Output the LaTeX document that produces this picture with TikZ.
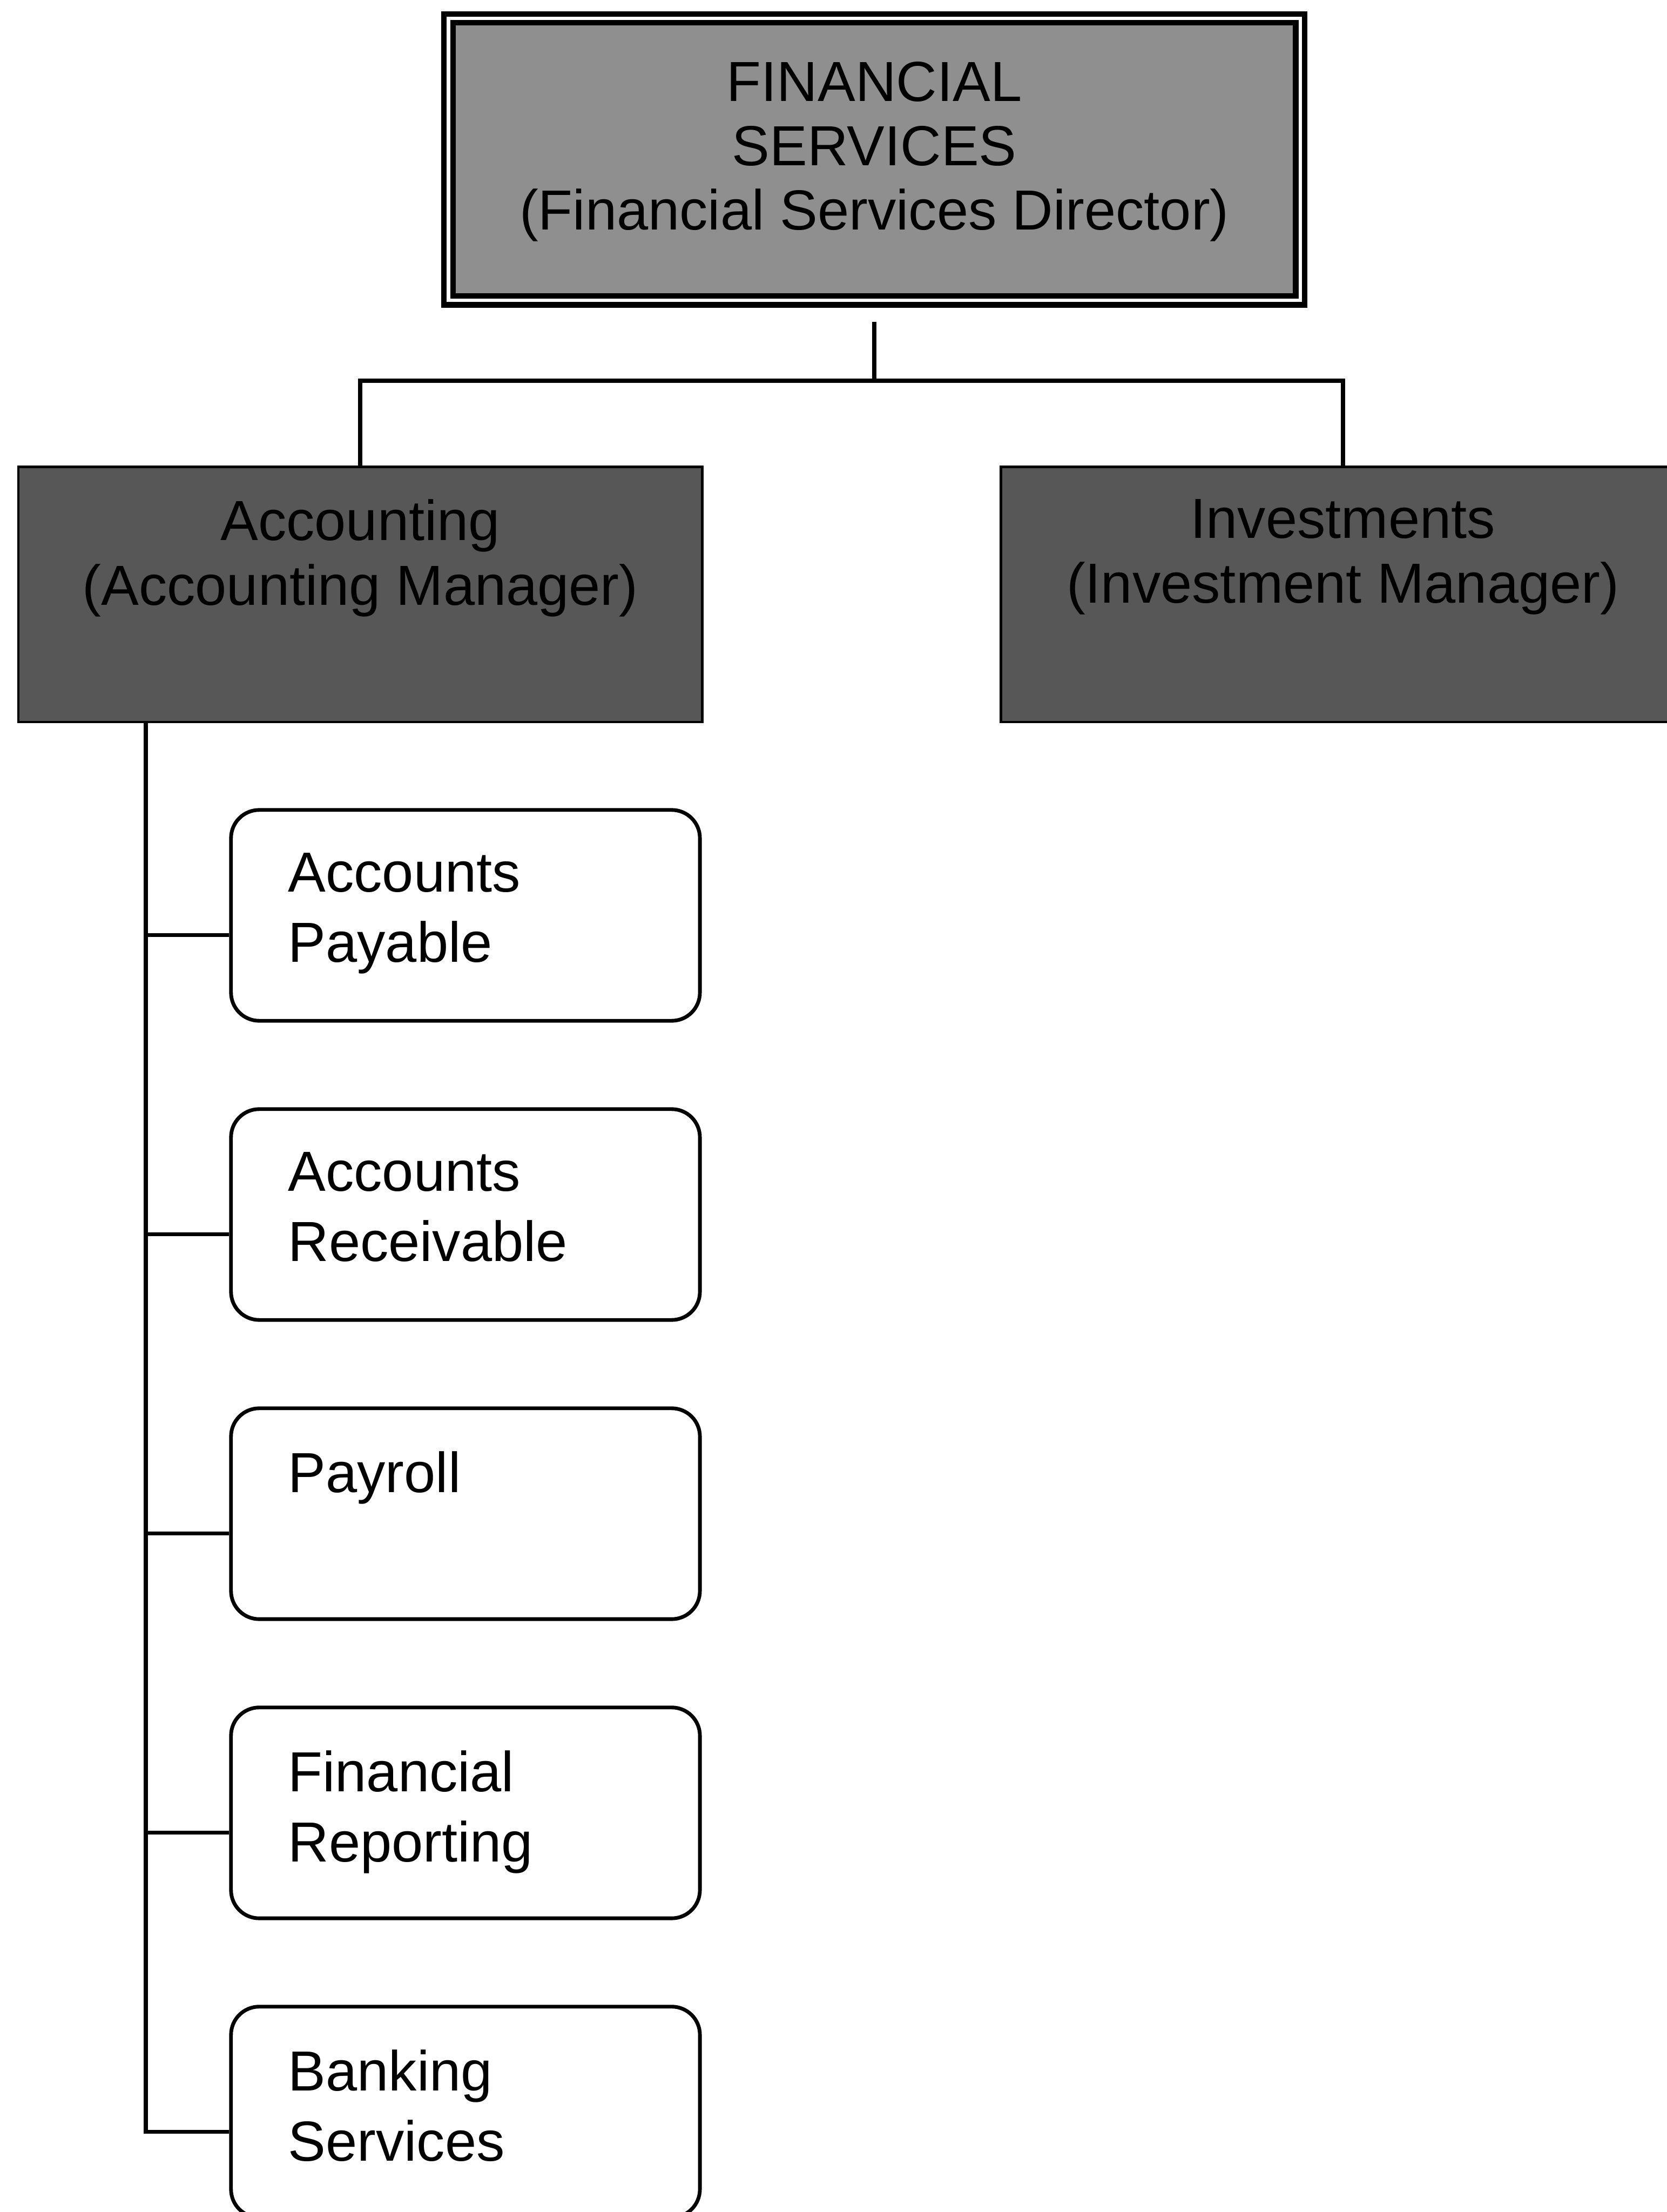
\documentclass[tikz,border=0pt]{standalone}
\usepackage{fontspec}
\setmainfont{Liberation Sans}
\usetikzlibrary{positioning,calc}

\definecolor{headgray}{gray}{0.56}
\definecolor{mgrgray}{gray}{0.34}

\begin{document}
\begin{tikzpicture}[
    headbox/.style={draw, double, line width=2.2pt, double distance=1.4pt,
        outer sep=2.9pt, fill=headgray, inner sep=0pt,
        font=\fontsize{22.8}{25.9}\selectfont,
        execute at begin node={\begin{minipage}[c][4cm][t]{12.08cm}\centering\vspace*{0.62cm}},
        execute at end node={\end{minipage}}},
    mgrbox/.style={draw, line width=1pt, fill=mgrgray, inner sep=0pt,
        font=\fontsize{22.8}{26.2}\selectfont,
        execute at begin node={\begin{minipage}[c][3.62cm][t]{9.70cm}\centering\vspace*{0.46cm}},
        execute at end node={\end{minipage}}},
    unitbox/.style={draw, line width=1.5pt, rounded corners=0.4cm, fill=white,
        inner xsep=0.81cm, inner ysep=0pt,
        font=\fontsize{22.8}{28.4}\selectfont,
        execute at begin node={\begin{minipage}[c][2.99cm][t]{5.03cm}\raggedright\vspace*{0.61cm}},
        execute at end node={\end{minipage}}},
    conn/.style={line width=1.7pt}]

    \useasboundingbox (0,0) rectangle (23.64,-31.37);

    % director and managers
    \node[headbox] (fs) at (12.40,-2.26) {FINANCIAL\\SERVICES\\(Financial Services Director)};
    \node[mgrbox] (acc) at (5.11,-8.43) {Accounting\\(Accounting Manager)};
    \node[mgrbox, right=4.2cm of acc] (inv) {Investments\\(Investment Manager)};

    % accounting sections
    \node[unitbox, anchor=north west] (ap) at (3.25,-11.46) {Accounts\\Payable};
    \node[unitbox, below=1.2cm of ap] (ar) {Accounts\\Receivable};
    \node[unitbox, below=1.2cm of ar] (pay) {Payroll};
    \node[unitbox, below=1.2cm of pay] (fr) {Financial\\Reporting};
    \node[unitbox, below=1.2cm of fr] (bank) {Banking\\Services};

    \coordinate[below=1.04cm of fs] (bar);
    \draw[conn] ([yshift=-2mm]fs.south) -- (bar);
    \draw[conn] (acc.north) |- (bar) -| (inv.north);

    \coordinate[left=1.18cm of ap.west] (sp);
    \draw[conn] (acc.south -| sp) |- ([yshift=-2.8mm]bank.west);
    \foreach \u in {ap,ar,pay,fr}
        \draw[conn] ([yshift=-2.8mm]\u.west) -- ([yshift=-2.8mm]\u.west -| sp);

\end{tikzpicture}
\end{document}
